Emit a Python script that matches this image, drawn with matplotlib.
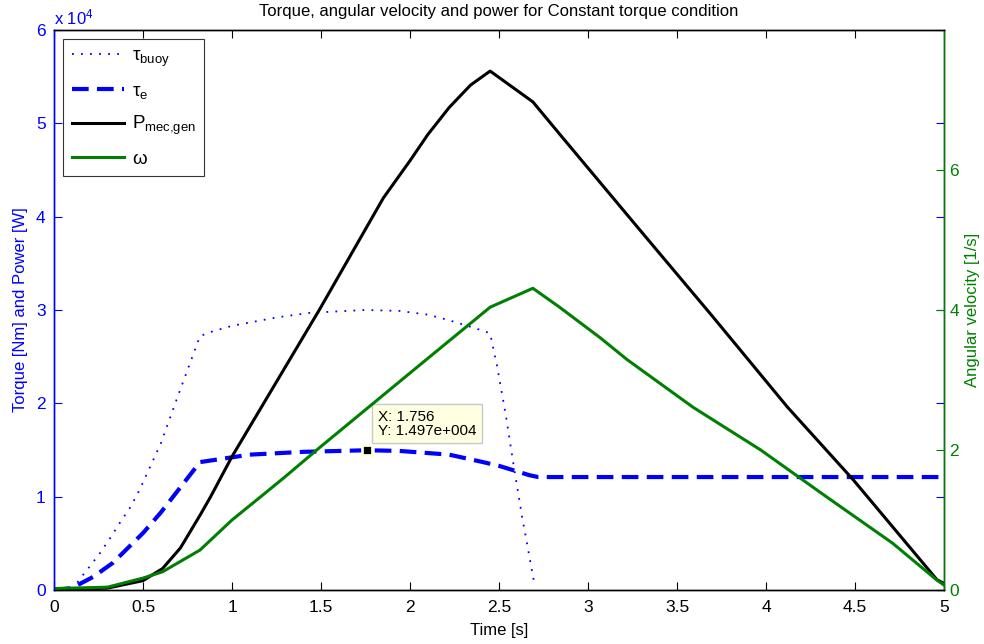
import numpy as np
import matplotlib.pyplot as plt

plt.rcParams['font.family'] = ['Liberation Sans', 'DejaVu Sans']
plt.rcParams['mathtext.fontset'] = 'custom'
plt.rcParams['mathtext.rm'] = 'Liberation Sans'
plt.rcParams['mathtext.it'] = 'Liberation Sans'

# buoy torque [Nm]
t_buoy = [0, 0.1, 0.15, 0.2, 0.26, 0.31, 0.37, 0.43, 0.48, 0.54, 0.6, 0.7, 0.82,
          0.89, 1.0, 1.25, 1.44, 1.75, 1.94, 2.1, 2.22, 2.39, 2.45, 2.49, 2.54,
          2.58, 2.63, 2.7]
tau_buoy = [0, 0.0, 0.13, 0.25, 0.4, 0.54, 0.72, 0.89, 1.07, 1.32, 1.57, 2.1, 2.72,
            2.77, 2.83, 2.92, 2.97, 3.0, 2.99, 2.95, 2.89, 2.79, 2.75, 2.39, 1.85,
            1.36, 0.78, 0.05]

# generator torque [Nm]
t_e = [0, 0.1, 0.22, 0.33, 0.5, 0.6, 0.71, 0.82, 1.1, 1.4, 1.756, 1.94, 2.22, 2.41,
       2.5, 2.67, 2.72, 5.0]
tau_e = [0, 0.02, 0.14, 0.29, 0.61, 0.83, 1.1, 1.37, 1.45, 1.48, 1.497, 1.49, 1.45,
         1.37, 1.33, 1.23, 1.21, 1.21]

# mechanical power [W]
t_p = [0, 0.3, 0.5, 0.61, 0.71, 0.82, 0.88, 1.0, 1.49, 1.85, 2.0, 2.1, 2.22, 2.34,
       2.45, 2.69, 2.86, 3.29, 3.70, 4.12, 4.49, 4.96, 5.0]
p_mec = [0, 0.02, 0.1, 0.23, 0.45, 0.8, 1.0, 1.43, 3.0, 4.2, 4.6, 4.88, 5.17, 5.41,
         5.56, 5.23, 4.84, 3.86, 2.93, 1.96, 1.18, 0.11, 0.07]

# angular velocity [1/s]
t_w = [0, 0.3, 0.5, 0.61, 0.82, 1.0, 1.16, 1.29, 1.49, 2.0, 2.45, 2.69, 2.84, 3.07,
       3.22, 3.59, 3.97, 4.34, 4.71, 4.96, 5.0]
omega = [0.02, 0.04, 0.17, 0.26, 0.57, 1.0, 1.33, 1.6, 2.03, 3.1, 4.04, 4.31, 4.04,
         3.6, 3.29, 2.61, 2.0, 1.33, 0.67, 0.14, 0.07]

tip_x, tip_y = 1.756, 1.497e4

scale = 1e4
blue = '#0000ff'
green = '#008000'

fig = plt.figure(figsize=(9.84, 6.44), dpi=100)
ax1 = fig.add_axes([0.0549, 0.0839, 0.9045, 0.8695])
ax2 = ax1.twinx()

l1, = ax1.plot(t_buoy, np.array(tau_buoy) * scale, color=blue, lw=1.3,
               dashes=(1, 4), label=r'$\tau_{buoy}$')
l2, = ax1.plot(t_e, np.array(tau_e) * scale, color=blue, lw=3.0,
               dashes=(4, 2), label=r'$\tau_e$')
l3, = ax1.plot(t_p, np.array(p_mec) * scale, color='black', lw=2.2,
               label=r'$P_{mec{,}gen}$')
l4, = ax2.plot(t_w, omega, color=green, lw=2.2, label=r'$\omega$')

ax1.set_xlim(0, 5)
ax1.set_ylim(0, 6e4)
ax2.set_ylim(0, 8)

ax1.set_xticks(np.arange(0, 5.01, 0.5))
ax1.set_xticklabels(['0', '0.5', '1', '1.5', '2', '2.5', '3', '3.5', '4', '4.5', '5'])
ax1.set_yticks(np.arange(0, 6.01e4, 1e4))
ax1.set_yticklabels([str(i) for i in range(7)])
ax2.set_yticks([0, 2, 4, 6])

ax1.tick_params(axis='x', direction='in', top=True, length=6, labelsize=12.5,
                colors='black', pad=7)
ax1.tick_params(axis='y', direction='in', right=True, length=6, labelsize=12.5,
                colors=blue, pad=6)
ax2.tick_params(axis='y', direction='in', length=6, labelsize=12.5, colors=green, pad=4)

ax1.spines['left'].set_color(blue)
ax2.spines['left'].set_color(blue)
ax2.spines['right'].set_color(green)
for ax in (ax1, ax2):
    for s in ax.spines.values():
        s.set_linewidth(1.0)

ax1.text(0.0, 1.005, r'x 10$^4$', transform=ax1.transAxes, color=blue, fontsize=12,
         ha='left', va='bottom')

ax1.set_xlabel('Time [s]', fontsize=12, labelpad=6)
ax1.set_ylabel('Torque [Nm] and Power [W]', fontsize=12, color=blue, labelpad=6)
ax2.set_ylabel('Angular velocity [1/s]', fontsize=12, color=green, labelpad=4)
ax1.set_title('Torque, angular velocity and power for Constant torque condition',
              fontsize=12, pad=10)

# data tip
ax1.plot([tip_x], [tip_y], marker='s', ms=7, color='black', zorder=5,
         markeredgecolor='#ffffe1', markeredgewidth=2)
ax1.annotate('X: 1.756\nY: 1.497e+004', xy=(tip_x, tip_y), xytext=(8, 9),
             textcoords='offset points', fontsize=11, ha='left', va='bottom',
             linespacing=1.0,
             bbox=dict(boxstyle='square,pad=0.35', fc='#ffffe1', ec='#c8c8c8'),
             zorder=6)

leg = ax1.legend(handles=[l1, l2, l3, l4], loc='upper left', fontsize=13.5,
                 bbox_to_anchor=(0.0, 1.0), borderaxespad=0.5, frameon=True,
                 fancybox=False, handlelength=2.8, handletextpad=0.4,
                 labelspacing=0.72, borderpad=0.45)
leg.get_frame().set_edgecolor('black')
leg.get_frame().set_linewidth(0.8)

fig.savefig('out.png', dpi=100)
